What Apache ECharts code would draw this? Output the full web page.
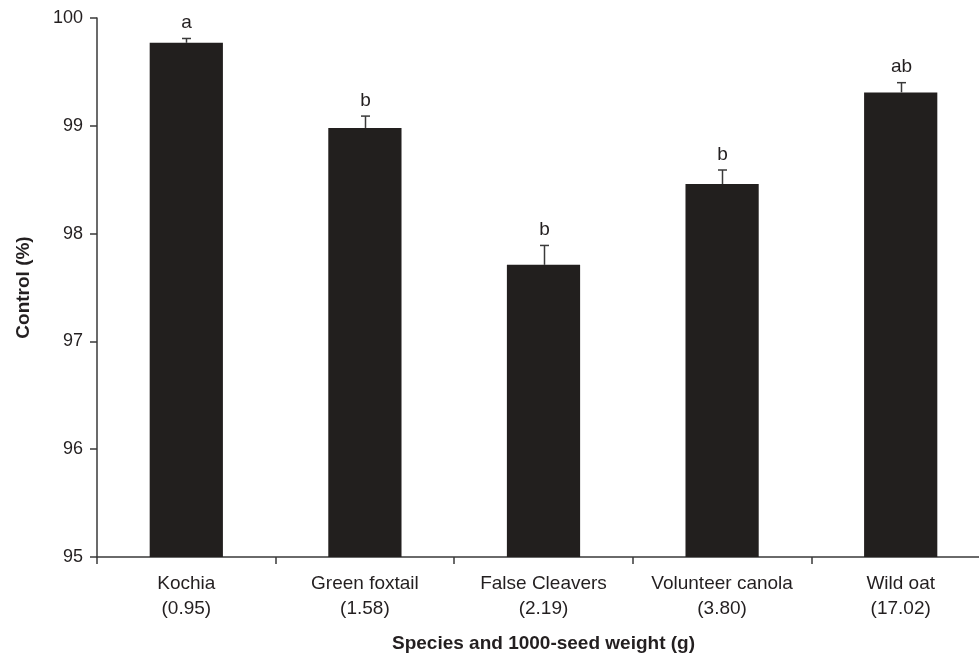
<!DOCTYPE html>
<html>
<head>
<meta charset="utf-8">
<style>
  html, body { margin: 0; padding: 0; background: #ffffff; overflow: hidden; }
  body { width: 979px; height: 658px; }
  /* the plot runs a little past the right edge of the page */
  #chart { width: 990px; height: 658px; }
</style>
<script src="https://cdn.jsdelivr.net/npm/echarts@6/dist/echarts.min.js"></script>
</head>
<body>
<div id="chart"></div>
<script>
// Weed species with their 1000-seed weight (g)
const species = ['Kochia', 'Green foxtail', 'False Cleavers', 'Volunteer canola', 'Wild oat'];
const seedWeights = ['0.95', '1.58', '2.19', '3.80', '17.02'];
// Mean control (%) and standard error for each species
const controlMeans = [99.77, 98.98, 97.71, 98.46, 99.31];
const controlErrors = [0.04, 0.11, 0.18, 0.13, 0.09];
// Mean separation letters
const letters = ['a', 'b', 'b', 'b', 'ab'];
// Y axis range
const yMin = 95, yMax = 100, yStep = 1;

const categories = species.map((s, i) => s + '\n(' + seedWeights[i] + ')');
const errorData = controlMeans.map((m, i) => [i, m, m + controlErrors[i], letters[i]]);

const FONT = '"Liberation Sans", Arial, Helvetica, sans-serif';
const INK = '#231f20';
const AXIS = '#3a3a3a';

const chart = echarts.init(document.getElementById('chart'));
chart.setOption({
  animation: false,
  backgroundColor: '#ffffff',
  grid: { left: 97, top: 18, right: 0, bottom: 98, containLabel: false },
  xAxis: {
    type: 'category',
    data: categories,
    name: 'Species and 1000-seed weight (g)',
    nameLocation: 'middle',
    nameGap: 77,
    nameTextStyle: { fontFamily: FONT, fontSize: 19, fontWeight: 'bold', color: INK },
    axisLine: { lineStyle: { color: AXIS, width: 1.5 } },
    axisTick: { show: true, alignWithLabel: false, length: 7, lineStyle: { color: AXIS, width: 1.5 } },
    axisLabel: { fontFamily: FONT, fontSize: 19, color: INK, lineHeight: 25, margin: 14, interval: 0 }
  },
  yAxis: {
    type: 'value',
    min: yMin, max: yMax, interval: yStep,
    name: 'Control (%)',
    nameLocation: 'middle',
    nameGap: 64,
    nameTextStyle: { fontFamily: FONT, fontSize: 19, fontWeight: 'bold', color: INK },
    splitLine: { show: false },
    axisLine: { show: true, lineStyle: { color: AXIS, width: 1.5 } },
    axisTick: { show: true, length: 7, lineStyle: { color: AXIS, width: 1.5 } },
    axisLabel: { fontFamily: FONT, fontSize: 18, color: INK, margin: 14 }
  },
  series: [
    {
      type: 'bar',
      data: controlMeans,
      barWidth: '41%',
      itemStyle: { color: '#221f1e' },
      z: 2
    },
    {
      type: 'custom',
      data: errorData,
      z: 3,
      renderItem: function (params, api) {
        const base = api.coord([api.value(0), api.value(1)]);
        const top = api.coord([api.value(0), api.value(2)]);
        const x = Math.round(base[0]) + 0.5;
        const half = 4.5;
        const style = { stroke: '#3a3a3a', lineWidth: 1.5 };
        return {
          type: 'group',
          children: [
            { type: 'line', shape: { x1: x, y1: base[1], x2: x, y2: top[1] }, style: style },
            { type: 'line', shape: { x1: x - half, y1: top[1], x2: x + half, y2: top[1] }, style: style },
            {
              type: 'text',
              style: {
                x: x, y: top[1] - 6,
                text: letters[params.dataIndex],
                textAlign: 'center', textVerticalAlign: 'bottom',
                font: '19px ' + FONT,
                fill: INK
              }
            }
          ]
        };
      }
    }
  ]
});
</script>
</body>
</html>
